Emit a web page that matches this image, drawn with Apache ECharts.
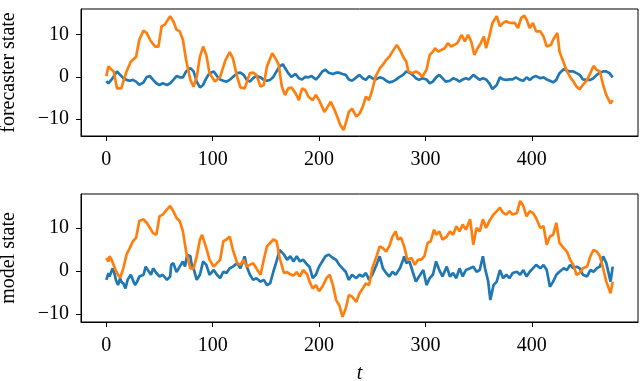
<!DOCTYPE html>
<html>
<head>
<meta charset="utf-8">
<script src="https://cdn.jsdelivr.net/npm/echarts@6/dist/echarts.min.js"></script>
<style>
html,body{margin:0;padding:0;background:#fff;}
#chart{width:640px;height:381px;}
</style>
</head>
<body>
<div id="chart"></div>
<script>
// ---- data (t, value) ----
var xTicks = [0, 100, 200, 300, 400];
var yTicks = [-10, 0, 10];
var topLabel = 'forecaster state';
var bottomLabel = 'model state';
var xLabel = 't';

var topBlue = [[0,-1],[2,-1.5],[5,-0.6],[8,0.5],[10,1.3],[13,0.5],[16,-0.3],[19,-0.7],[22,-0.9],[25,-0.7],[28,-1.1],[31,-1.9],[35,-1.3],[38,0],[41,0.2],[44,-0.7],[47,-1.5],[50,-1.9],[53,-1.5],[57,-1.9],[60,-1.5],[63,-0.7],[66,0.2],[69,-0.1],[72,-0.1],[75,1.3],[79,2.1],[82,1.3],[85,-1.1],[88,-2.5],[91,-1.9],[94,-0.3],[97,0.9],[101,1.3],[104,0.2],[107,-0.6],[110,-0.9],[113,-1.1],[116,-0.7],[119,0],[123,0.9],[126,1],[129,0.5],[132,-0.7],[135,-1.1],[138,-0.3],[141,0.2],[145,-0.1],[148,-0.7],[151,-0.9],[154,-0.7],[157,0],[160,1.3],[163,2.5],[166,3],[168,2.1],[171,0.9],[174,0],[178,0.7],[181,-0.3],[184,-0.6],[187,0],[190,-0.1],[193,0.2],[197,-0.6],[200,0.2],[203,1.3],[206,1.7],[209,1],[213,0.7],[216,1],[219,1],[222,0.7],[225,0.5],[228,-0.6],[231,-0.9],[235,-0.1],[238,0.5],[241,-0.3],[244,-0.7],[247,0.2],[250,-0.3],[253,-0.6],[257,-0.1],[260,-0.3],[263,-0.9],[266,-1.3],[269,-1.1],[272,-0.7],[275,-0.1],[279,0.5],[282,1.3],[285,1],[288,0.5],[291,-0.3],[294,-0.7],[297,-0.3],[301,-0.6],[304,-1.5],[307,-1.1],[310,-0.1],[313,0.5],[316,-0.3],[319,-1.1],[323,-0.9],[326,-0.3],[329,-0.6],[332,-1.1],[335,-0.6],[338,-0.3],[341,-0.6],[345,0.5],[348,-0.1],[351,-0.7],[354,-0.3],[357,-0.6],[360,-1.5],[363,-2.9],[367,-1.9],[370,-0.1],[373,-0.6],[376,-0.7],[379,-0.6],[382,-0.6],[385,-0.1],[389,-0.7],[392,-0.9],[395,-0.1],[398,-0.7],[401,-0.1],[404,0.2],[408,-0.3],[411,-0.1],[414,-0.6],[417,-0.9],[420,-1.3],[423,-0.7],[426,0.9],[430,1.8],[433,1.5],[436,1.3],[439,1.3],[442,0.9],[445,0.5],[448,-0.6],[452,-0.7],[455,-0.7],[458,-0.3],[461,0.5],[464,1],[467,1.3],[470,1.3],[473,0.9],[476,-0.1]];

var topOrange = [[0,0.2],[2,2.5],[5,1.7],[7,1.3],[10,-2.7],[14,-2.7],[19,1.3],[23,3.6],[28,4.8],[31,8.8],[35,11],[38,10.4],[42,8.4],[46,7.2],[49,7.2],[52,12],[55,12.4],[60,14.4],[63,13.2],[66,11.2],[69,10.8],[72,8.8],[75,4],[79,-0.7],[82,-2.3],[85,0],[88,4.8],[91,7.2],[94,5.2],[97,0.9],[102,-1.1],[107,0],[112,4],[116,5.9],[119,4.4],[123,0],[126,-2.5],[130,-2.7],[135,0.9],[138,1],[141,0.5],[145,-2.3],[148,-1.9],[151,2.5],[156,5.6],[159,4.4],[162,2.9],[165,-2.3],[168,-4.3],[171,-2.7],[174,-2.5],[178,-3.9],[181,-5.5],[184,-2.7],[187,-3.1],[190,-4.7],[194,-5.5],[197,-4.3],[200,-5.5],[205,-8.3],[208,-7.1],[211,-5.9],[214,-7.5],[217,-9.4],[220,-11.4],[223,-12.6],[225,-11],[228,-8.3],[231,-7.5],[235,-9.4],[238,-8.7],[241,-7.1],[244,-4.7],[247,-5.5],[250,-3.1],[253,0],[257,2],[260,2.9],[263,4],[266,4.8],[269,6],[273,7.6],[276,6.4],[279,4.8],[282,3.6],[284,1.3],[288,0.9],[291,1.3],[294,0.9],[297,0],[301,1.7],[304,5.2],[307,6],[309,6.8],[312,6],[315,6.4],[318,6.8],[321,8],[324,7.2],[327,7.6],[330,8],[334,10],[337,8.4],[340,10],[343,8.4],[346,5.2],[349,6.8],[352,8],[355,9.6],[357,6.8],[360,9.6],[363,12.8],[367,14.4],[370,12],[373,12.8],[376,13.2],[379,12.8],[384,12.8],[387,11.6],[390,14],[393,14.5],[395,13.6],[398,11.6],[401,12.8],[404,10.8],[408,10.8],[411,9.6],[414,7.2],[418,7.6],[420,8.8],[424,10.4],[426,6],[430,3.3],[433,1.3],[436,0],[439,-1.1],[442,-2.3],[445,-2.9],[448,-1.9],[452,-0.7],[455,0.9],[458,2.6],[461,1.7],[464,1.3],[467,-1.9],[470,-4.3],[474,-6.3],[476,-5.5]];

var bottomBlue = [[0,-2.1],[2,-0.5],[3,-1.3],[5,0],[6,0.6],[8,-0.9],[9,-2.1],[11,-3.3],[13,-1.7],[14,-2.5],[16,-2.9],[18,-4.1],[20,-2.1],[23,-0.9],[25,-2.1],[27,-3.3],[29,-2.5],[31,-1.3],[35,-0.9],[37,1],[39,0.2],[42,-0.9],[44,0.6],[47,-0.5],[50,-1.3],[53,-0.9],[57,-2.1],[60,-1.3],[61,1.4],[63,1.8],[66,-0.3],[69,1],[72,2.2],[74,1],[76,3.8],[79,3.4],[80,1.8],[82,0.6],[85,-2.1],[88,-0.9],[91,2.2],[94,1.4],[97,-0.9],[101,0.2],[104,-0.9],[107,-1.7],[110,-0.2],[113,-0.5],[116,0.6],[119,1],[123,1.8],[126,0.6],[129,2.6],[130,3.4],[132,1],[135,-0.9],[138,-2.1],[141,-1.7],[145,-2.5],[148,-2.1],[151,-3.3],[154,-2.9],[157,-0.2],[160,2.2],[163,4.9],[167,3.8],[170,2.6],[173,3.4],[176,2.2],[179,3.4],[182,2.2],[185,2.6],[189,1.4],[191,1],[194,-1.7],[197,-0.9],[200,1],[203,2.2],[206,3.4],[209,3.8],[213,3],[216,2.6],[219,1.4],[222,0.6],[225,-0.2],[228,-2.1],[231,-0.9],[235,-1.7],[238,-0.9],[241,-1.3],[244,-0.5],[247,-2.1],[250,-0.9],[254,1.4],[257,3.4],[260,0.6],[263,-0.5],[266,-1.3],[269,-0.2],[272,-0.9],[276,0.6],[279,2.6],[280,3.4],[282,1.8],[285,2.2],[288,-0.2],[291,-2.5],[294,-1.3],[298,0.2],[301,-3.3],[304,-1.7],[307,-0.9],[310,2.2],[313,0.2],[316,-1.3],[320,1],[323,-1.3],[326,-0.5],[329,-1.7],[332,0.6],[335,-1.3],[338,0.2],[342,0.6],[345,1],[348,-0.2],[351,0.2],[354,3.4],[356,0.6],[359,-2.5],[361,-6.8],[364,-3.3],[367,-2.5],[370,0.2],[373,-1.7],[376,-0.9],[379,-1.7],[382,-0.5],[386,-0.2],[389,-0.9],[392,0.2],[395,-1.3],[398,-0.2],[401,0.6],[404,1.4],[408,0.6],[411,1.4],[414,0.2],[417,-3.7],[420,-2.5],[423,-0.9],[426,-0.2],[430,0.6],[433,0.2],[436,1.4],[439,0.6],[442,1],[445,0.6],[448,-0.9],[452,-1.3],[455,0.2],[458,-0.2],[461,0.6],[464,1],[467,3.4],[470,1.8],[474,-2.5],[476,1]];

var bottomOrange = [[0,3],[2,2.2],[3,3.4],[5,2.6],[8,0.6],[11,-0.9],[13,-1.6],[16,0.6],[19,3.8],[22,5.3],[25,6.9],[28,7.7],[31,11.6],[35,12],[38,11.2],[41,10],[44,8.8],[47,8.4],[50,12.7],[53,13.1],[57,14.3],[60,15.1],[63,13.9],[66,12.3],[69,11.6],[72,9.2],[75,4.5],[79,0.6],[82,0.6],[85,3.4],[88,7.3],[90,8.4],[94,5.3],[97,2.6],[101,1],[104,1.8],[107,2.6],[110,6.9],[113,7.3],[116,8],[119,4.9],[123,1.8],[126,1.4],[129,2.6],[132,1],[135,1.4],[138,1.8],[141,0.6],[145,-0.9],[148,2.6],[151,5.7],[154,6.5],[157,7.3],[160,6.9],[163,3],[167,-0.5],[170,-0.3],[173,-0.8],[176,-1.1],[179,-0.3],[182,-1.3],[185,0.2],[189,-0.9],[191,-2.5],[194,-4.1],[197,-3.3],[200,-4.7],[203,-3.7],[207,-1.7],[210,-0.9],[213,-3.3],[216,-6.8],[219,-8],[222,-10.7],[225,-8.8],[228,-5.6],[231,-6],[235,-7.2],[238,-5.2],[241,-4.1],[244,-2.9],[247,-3.3],[250,0.6],[254,3.4],[257,5.7],[260,5.3],[263,4.5],[266,5.7],[269,8],[272,9.2],[274,7.3],[277,7.7],[280,5.7],[283,2.6],[287,3],[290,1.4],[293,2.6],[296,2.6],[299,3.4],[302,6.5],[305,6.9],[308,9.6],[310,8.4],[313,9.2],[316,7.3],[320,8],[323,9.2],[326,8.4],[329,10.4],[332,9.2],[335,10.8],[338,9.6],[342,12],[345,6.1],[348,10],[351,9.2],[354,12],[357,10],[360,11.6],[364,13.1],[367,13.9],[370,14.7],[373,13.5],[376,13.1],[379,13.9],[382,13.1],[386,13.5],[389,16.3],[392,15.1],[395,12.7],[398,13.9],[401,13.5],[404,12.3],[408,10],[411,10.4],[414,6.1],[417,8],[420,8.4],[423,11.2],[426,6.5],[430,5.3],[433,4.5],[436,2.6],[439,1.4],[442,-0.9],[445,-0.5],[448,0.6],[452,1],[455,3.4],[458,4.9],[461,4.5],[464,3.4],[467,0.6],[470,-2.5],[474,-5.2],[476,-2.5]];

// ---- chart ----
var FONT = '"Liberation Serif", "DejaVu Serif", serif';
var BLUE = '#1f77b4', ORANGE = '#ff7f0e';
function fmt(v){ return v < 0 ? '\u2212' + Math.abs(v) : String(v); }

function xAxis(gridIndex, withName){
  return {
    type: 'value', gridIndex: gridIndex, min: -23.8, max: 499.8, position: 'bottom',
    name: withName ? xLabel : '', nameLocation: 'middle', nameGap: 42,
    nameTextStyle: { fontFamily: FONT, fontSize: 20, fontStyle: 'italic', color: '#000' },
    axisLine: { show: true, onZero: false, lineStyle: { color: '#000', width: 1 } },
    axisTick: { show: true, inside: false, length: 5, customValues: xTicks, lineStyle: { color: '#000', width: 1 } },
    axisLabel: { show: true, customValues: xTicks, margin: 14, fontFamily: FONT, fontSize: 20, color: '#000', formatter: fmt },
    splitLine: { show: false }
  };
}
function yAxis(gridIndex, name, min, max){
  return {
    type: 'value', gridIndex: gridIndex, min: min, max: max, position: 'left',
    name: name, nameLocation: 'middle', nameGap: 62, nameRotate: 90,
    nameTextStyle: { fontFamily: FONT, fontSize: 20, color: '#000' },
    axisLine: { show: true, onZero: false, lineStyle: { color: '#000', width: 1 } },
    axisTick: { show: true, inside: false, length: 5, customValues: yTicks, lineStyle: { color: '#000', width: 1 } },
    axisLabel: { show: true, customValues: yTicks, margin: 12, fontFamily: FONT, fontSize: 20, color: '#000', formatter: fmt },
    splitLine: { show: false }
  };
}
function line(data, color, xi, yi){
  return { type: 'line', data: data, xAxisIndex: xi, yAxisIndex: yi, showSymbol: false, symbol: 'none',
    lineStyle: { color: color, width: 2.7 }, itemStyle: { color: color }, smooth: false, silent: true };
}

var chart = echarts.init(document.getElementById('chart'), null, { renderer: 'canvas' });
chart.setOption({
  animation: false,
  backgroundColor: '#fff',
  grid: [
    { left: 81, right: 2, top: 9, height: 127, show: true, borderColor: '#000', borderWidth: 1, backgroundColor: 'transparent', outerBoundsMode: 'none', containLabel: false },
    { left: 81, right: 2, top: 194, height: 128, show: true, borderColor: '#000', borderWidth: 1, backgroundColor: 'transparent', outerBoundsMode: 'none', containLabel: false }
  ],
  xAxis: [ xAxis(0, false), xAxis(1, true) ],
  yAxis: [ yAxis(0, topLabel, -14, 16.1), yAxis(1, bottomLabel, -11.9, 17.9) ],
  series: [
    line(topBlue, BLUE, 0, 0),
    line(topOrange, ORANGE, 0, 0),
    line(bottomBlue, BLUE, 1, 1),
    line(bottomOrange, ORANGE, 1, 1)
  ]
});
</script>
</body>
</html>
